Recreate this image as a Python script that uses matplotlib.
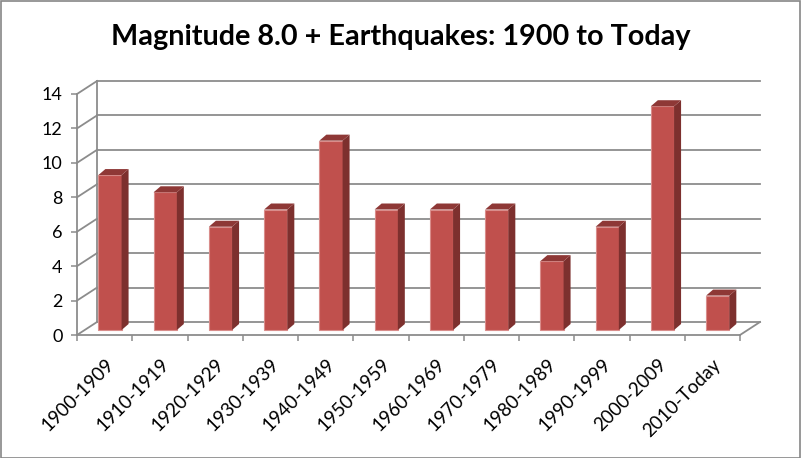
import matplotlib
matplotlib.use('Agg')
import matplotlib.pyplot as plt
from matplotlib.patches import Polygon, Rectangle
from matplotlib.lines import Line2D
import numpy as np

categories = ['1900-1909', '1910-1919', '1920-1929', '1930-1939', '1940-1949',
              '1950-1959', '1960-1969', '1970-1979', '1980-1989', '1990-1999',
              '2000-2009', '2010-Today']
counts = [9, 8, 6, 7, 11, 7, 7, 7, 4, 6, 13, 2]
yticks = [0, 2, 4, 6, 8, 10, 12, 14]
title = 'Magnitude 8.0 + Earthquakes: 1900 to Today'

FONT = ['Lato', 'DejaVu Sans']
plt.rcParams['font.family'] = FONT

W, H = 801, 458
fig = plt.figure(figsize=(W / 100, H / 100), dpi=100)
ax_l, ax_b, ax_w, ax_h = 77, 335, 663, 241  # pixel geometry of front plane
ax = fig.add_axes([ax_l / W, (H - ax_b) / H, ax_w / W, ax_h / H])
n = len(categories)
x = np.arange(n)
ax.set_xlim(-0.5, n - 0.5)
ax.set_ylim(0, 14)

# pixel -> data conversions
px = (n) / ax_w
py = 14 / ax_h

grid_c = '#8c8c8c'
# back wall offsets
bdx, bdy = 20 * px, 13 * py
# bar plane offset
pdx, pdy = 7 * px, 5 * py
# bar depth
ddx, ddy = 7 * px, 6 * py

x0, x1 = -0.5, n - 0.5
for y in yticks:
    ax.add_line(Line2D([x0 + bdx, x1 + bdx], [y + bdy, y + bdy], color=grid_c, lw=1.3,
                       clip_on=False, zorder=1))
    ax.add_line(Line2D([x0, x0 + bdx], [y, y + bdy], color=grid_c, lw=1.3,
                       clip_on=False, zorder=1))
# back-left vertical
ax.add_line(Line2D([x0 + bdx, x0 + bdx], [bdy, 14 + bdy], color=grid_c, lw=1.3,
                   clip_on=False, zorder=1))
# right floor diagonal
ax.add_line(Line2D([x1, x1 + bdx], [0, bdy], color=grid_c, lw=1.3,
                   clip_on=False, zorder=1))

bw = 0.42
front_c = '#c0504d'
side_c = '#7d302e'
top_c = '#8e3836'
xc = x + pdx - 0.03
bars = ax.bar(xc, [c for c in counts], width=bw, bottom=pdy, color=front_c,
              edgecolor='#d98d8b', linewidth=0.8, zorder=3)
for xi, v in zip(xc, counts):
    r = xi + bw / 2
    l = xi - bw / 2
    top = v + pdy
    ax.add_patch(Polygon([(r, pdy), (r, top), (r + ddx, top + ddy), (r + ddx, pdy + ddy)],
                         closed=True, facecolor=side_c, edgecolor='none', zorder=3))
    ax.add_patch(Polygon([(l, top), (r, top), (r + ddx, top + ddy), (l + ddx, top + ddy)],
                         closed=True, facecolor=top_c, edgecolor='none', zorder=3))

# axes styling
for s in ['top', 'right']:
    ax.spines[s].set_visible(False)
for s in ['left', 'bottom']:
    ax.spines[s].set_color(grid_c)
    ax.spines[s].set_linewidth(1.3)
ax.set_yticks(yticks)
ax.set_yticklabels([str(t) for t in yticks], fontsize=13, color='#000000')
ax.tick_params(axis='y', length=4.5, width=1.1, color=grid_c, pad=6)
ax.set_xticks(np.arange(-0.5, n, 1.0))
ax.set_xticklabels([])
ax.tick_params(axis='x', which='major', length=4.5, width=1.1, color=grid_c)
ax.set_xticks(x, minor=True)
ax.set_xticklabels(categories, minor=True, rotation=45, ha='right', va='top',
                   rotation_mode='anchor', fontsize=13.5)
ax.tick_params(axis='x', which='minor', length=0, pad=15)
ax.patch.set_alpha(0)

fig.text(0.5, (H - 37) / H, title, ha='center', va='center', fontsize=20.7,
         fontweight='bold', color='#000000')

fig.patches.append(Rectangle((0.5 / W, 0.5 / H), 1 - 1.5 / W, 1 - 1.5 / H, transform=fig.transFigure,
                             fill=False, edgecolor='#868686', lw=1.2))

fig.savefig('out.png', dpi=100)
